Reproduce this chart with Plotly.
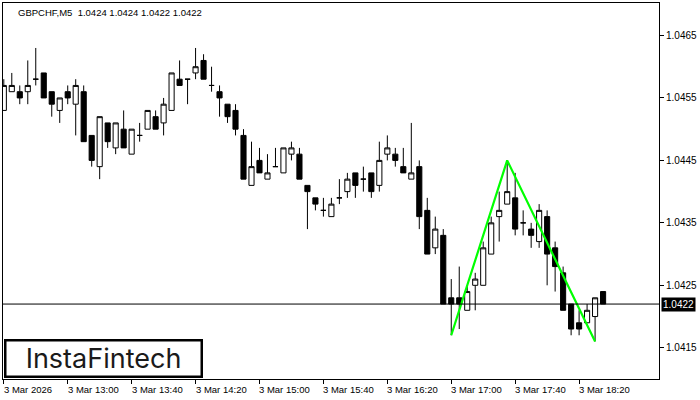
import plotly.graph_objects as go

# ---- data (GBPCHF M5, 3 Mar 2026 12:20 .. 18:35), bar index 0..75 ----
opens = [1.0453, 1.0456, 1.0456, 1.0456, 1.0458, 1.0459, 1.0456, 1.0453, 1.0456, 1.0454,
         1.0456, 1.0449, 1.0444, 1.0451, 1.0447, 1.0450, 1.0446, 1.0449, 1.0450, 1.0452,
         1.0451, 1.0453, 1.0458, 1.0458, 1.0459, 1.0461, 1.0457, 1.0456, 1.0454, 1.0453,
         1.0449, 1.0441, 1.0445, 1.0442, 1.0444, 1.0443, 1.0446, 1.0446, 1.0441, 1.0439,
         1.0437, 1.0436, 1.0439, 1.0440, 1.0443, 1.0442, 1.0443, 1.0441, 1.0446, 1.0446,
         1.0444, 1.0442, 1.0444, 1.0437, 1.0431, 1.0433, 1.0423, 1.0423, 1.0421, 1.0425,
         1.0425, 1.0430, 1.0436, 1.0438, 1.0439, 1.0435, 1.0434, 1.0432, 1.0436, 1.0431,
         1.0427, 1.0422, 1.0419, 1.0419, 1.0420, 1.0424]
highs = [1.0458, 1.0459, 1.0457, 1.0461, 1.0463, 1.0459, 1.0456, 1.0455, 1.0457, 1.0458,
         1.0457, 1.0449, 1.0452, 1.0451, 1.0451, 1.0453, 1.0450, 1.0451, 1.0453, 1.0453,
         1.0455, 1.0459, 1.0461, 1.0458, 1.0463, 1.0462, 1.0460, 1.0457, 1.0454, 1.0454,
         1.0450, 1.0448, 1.0447, 1.0446, 1.0447, 1.0447, 1.0448, 1.0447, 1.0441, 1.0439,
         1.0439, 1.0439, 1.0442, 1.0443, 1.0443, 1.0444, 1.0443, 1.0448, 1.0449, 1.0447,
         1.0447, 1.0451, 1.0445, 1.0439, 1.0436, 1.0434, 1.0426, 1.0428, 1.0425, 1.0427,
         1.0432, 1.0436, 1.0440, 1.0445, 1.0443, 1.0437, 1.0435, 1.0438, 1.0437, 1.0432,
         1.0428, 1.0422, 1.0421, 1.0422, 1.0423, 1.0424]
lows = [1.0453, 1.0456, 1.0454, 1.0454, 1.0457, 1.0455, 1.0452, 1.0451, 1.0454, 1.0449,
        1.0448, 1.0444, 1.0442, 1.0447, 1.0446, 1.0447, 1.0446, 1.0448, 1.0450, 1.0450,
        1.0449, 1.0453, 1.0457, 1.0454, 1.0458, 1.0458, 1.0456, 1.0452, 1.0451, 1.0449,
        1.0442, 1.0441, 1.0443, 1.0442, 1.0444, 1.0443, 1.0445, 1.0442, 1.0434, 1.0437,
        1.0436, 1.0436, 1.0438, 1.0439, 1.0439, 1.0440, 1.0439, 1.0440, 1.0445, 1.0444,
        1.0443, 1.0442, 1.0434, 1.0430, 1.0430, 1.0422, 1.0417, 1.0418, 1.0421, 1.0421,
        1.0425, 1.0430, 1.0432, 1.0438, 1.0433, 1.0433, 1.0431, 1.0431, 1.0425, 1.0424,
        1.0421, 1.0417, 1.0417, 1.0419, 1.0416, 1.0422]
closes = [1.0457, 1.0457, 1.0455, 1.0457, 1.0458, 1.0455, 1.0454, 1.0455, 1.0455, 1.0457,
          1.0448, 1.0445, 1.0452, 1.0448, 1.0451, 1.0447, 1.0450, 1.0449, 1.0453, 1.0450,
          1.0454, 1.0459, 1.0457, 1.0458, 1.0460, 1.0458, 1.0457, 1.0455, 1.0452, 1.0450,
          1.0442, 1.0444, 1.0443, 1.0443, 1.0444, 1.0447, 1.0447, 1.0442, 1.0440, 1.0438,
          1.0437, 1.0438, 1.0439, 1.0442, 1.0441, 1.0442, 1.0440, 1.0445, 1.0447, 1.0445,
          1.0443, 1.0443, 1.0436, 1.0430, 1.0434, 1.0422, 1.0422, 1.0422, 1.0424, 1.0426,
          1.0431, 1.0435, 1.0437, 1.0440, 1.0434, 1.0435, 1.0433, 1.0437, 1.0430, 1.0428,
          1.0421, 1.0418, 1.0418, 1.0421, 1.0423, 1.0422]
bar_index = list(range(len(closes)))

# Double-top pattern outline (bar index, price)
pattern_x = [56, 63, 74]
pattern_y = [1.0417, 1.0445, 1.0416]

current_price = 1.0422
title_text = "GBPCHF,M5  1.0424 1.0424 1.0422 1.0422"

price_ticks = [1.0415, 1.0425, 1.0435, 1.0445, 1.0455, 1.0465]
price_tick_text = ["1.0415", "1.0425", "1.0435", "1.0445", "1.0455", "1.0465"]
time_tick_pos = [0, 8, 16, 24, 32, 40, 48, 56, 64, 72]
time_tick_text = ["3 Mar 2026", "3 Mar 13:00", "3 Mar 13:40", "3 Mar 14:20", "3 Mar 15:00",
                  "3 Mar 15:40", "3 Mar 16:20", "3 Mar 17:00", "3 Mar 17:40", "3 Mar 18:20"]

FONT = "Liberation Sans, Arial, sans-serif"

fig = go.Figure()
fig.add_trace(go.Candlestick(
    x=bar_index, open=opens, high=highs, low=lows, close=closes,
    increasing=dict(fillcolor="white", line=dict(color="black", width=1)),
    decreasing=dict(fillcolor="black", line=dict(color="black", width=1)),
    whiskerwidth=0, hoverinfo="skip", showlegend=False,
))
fig.add_trace(go.Scatter(
    x=pattern_x, y=pattern_y, mode="lines",
    line=dict(color="#00ff00", width=2.2), hoverinfo="skip", showlegend=False,
))

# current price line
fig.add_hline(y=current_price, line=dict(color="black", width=1))

annotations = []
for pos, txt in zip(time_tick_pos, time_tick_text):
    annotations.append(dict(x=pos, y=0, xref="x", yref="paper", text=txt,
                            xanchor="left", yanchor="top", yshift=-3, xshift=-2,
                            showarrow=False, font=dict(family=FONT, size=9.5, color="black")))
annotations.append(dict(x=1, y=current_price, xref="paper", yref="y",
                        text="1.0422", xanchor="left", yanchor="middle", xshift=2,
                        showarrow=False, bgcolor="black", borderpad=1,
                        font=dict(family=FONT, size=10, color="white")))
annotations.append(dict(x=0, y=1, xref="paper", yref="paper", text=title_text,
                        xanchor="left", yanchor="top", xshift=13, yshift=-2,
                        showarrow=False, font=dict(family=FONT, size=9.5, color="black")))
annotations.append(dict(x=0.0, y=0.0, xref="paper", yref="paper", text="InstaFintech",
                        xanchor="left", yanchor="bottom", xshift=1, yshift=1,
                        width=194, height=34, align="center", valign="middle",
                        bordercolor="black", borderwidth=2.5, borderpad=0, bgcolor="white",
                        showarrow=False, font=dict(family="Inter, Lato, sans-serif", size=27, color="#1a1a1a")))

fig.update_layout(
    width=700, height=400,
    margin=dict(l=3, r=41, t=3, b=21),
    paper_bgcolor="white", plot_bgcolor="white",
    boxgap=0.2, boxgroupgap=0.2,
    annotations=annotations,
    hovermode=False,
    xaxis=dict(range=[-0.1, 82], showgrid=False, zeroline=False, rangeslider=dict(visible=False),
               showline=True, linecolor="black", linewidth=1, mirror=True,
               tickmode="array", tickvals=time_tick_pos, ticks="outside", ticklen=4,
               tickcolor="black", showticklabels=False),
    yaxis=dict(range=[1.04100, 1.04702], side="right", showgrid=False, zeroline=False,
               showline=True, linecolor="black", linewidth=1, mirror=True,
               tickmode="array", tickvals=price_ticks, ticktext=price_tick_text,
               ticks="outside", ticklen=4, tickcolor="black",
               tickfont=dict(family=FONT, size=10, color="black")),
)

fig.write_html("out.html", config={"displayModeBar": False, "staticPlot": True},
               post_script="document.body.style.margin='0';document.body.style.overflow='hidden';")
